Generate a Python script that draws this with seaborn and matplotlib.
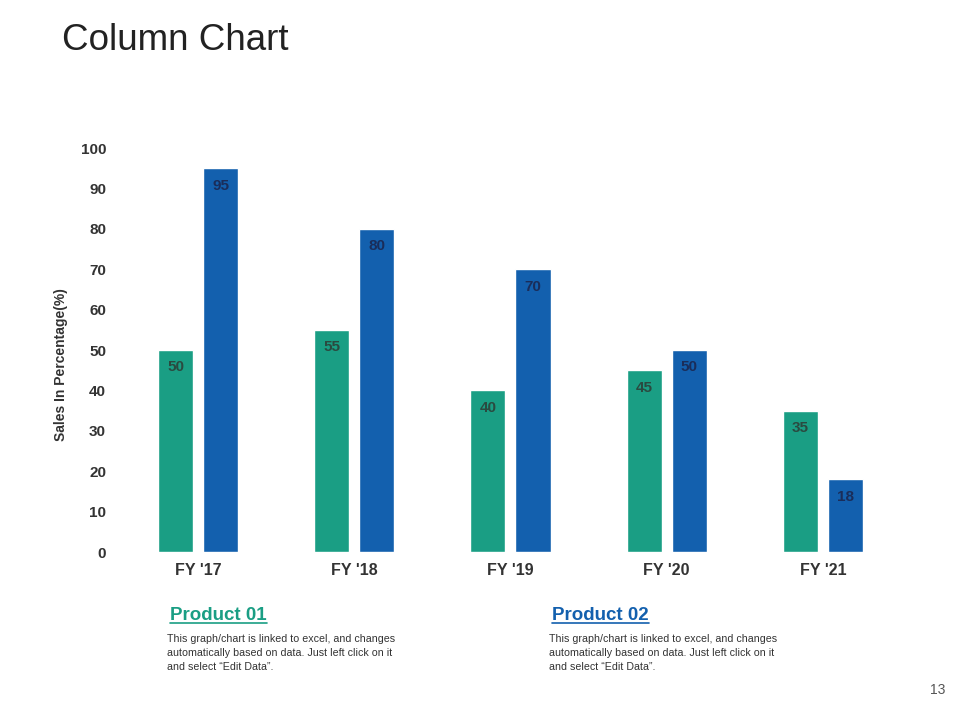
import matplotlib
matplotlib.use("Agg")
import matplotlib.pyplot as plt
from matplotlib.lines import Line2D
import pandas as pd
import seaborn as sns

# chart data
YEARS = ["FY '17", "FY '18", "FY '19", "FY '20", "FY '21"]
PRODUCT_01 = [50, 55, 40, 45, 35]
PRODUCT_02 = [95, 80, 70, 50, 18]
SERIES = ["Product 01", "Product 02"]
Y_TICKS = [0, 10, 20, 30, 40, 50, 60, 70, 80, 90, 100]

GREEN = "#1a9e84"
BLUE = "#1360ae"
LABEL_COLORS = ["#2a4a40", "#1a2d5a"]
NOTE = ("This graph/chart is linked to excel, and changes\n"
        "automatically based on data. Just left click on it\n"
        "and select \u201cEdit Data\u201d.")

df = pd.DataFrame({
    "year": YEARS * 2,
    "sales": PRODUCT_01 + PRODUCT_02,
    "product": [SERIES[0]] * len(YEARS) + [SERIES[1]] * len(YEARS),
})

sns.set_style("white")
plt.rcParams["font.family"] = ["Liberation Sans", "DejaVu Sans"]

fig = plt.figure(figsize=(9.6, 7.2), dpi=100)
ax = fig.add_axes([0.125, 0.2333, 0.8135, 0.5611])

sns.barplot(data=df, x="year", y="sales", hue="product", palette=[GREEN, BLUE],
            width=0.577, gap=0.222, saturation=1, legend=False, ax=ax)

for container, color in zip(ax.containers, LABEL_COLORS):
    for bar in container:
        h = bar.get_height()
        ax.annotate(f"{h:g}", (bar.get_x() + bar.get_width() / 2, h),
                    xytext=(0, -12.5), textcoords="offset points",
                    ha="center", va="center", fontsize=11, fontweight="bold",
                    color=color)

ax.set_ylim(0, 100)
ax.set_xlim(-0.5, 4.5)
ax.set_yticks(Y_TICKS)
ax.tick_params(axis="both", length=0, labelcolor="#333333")
ax.tick_params(axis="y", pad=10, labelsize=11)
ax.tick_params(axis="x", pad=8, labelsize=11.5)
for lab in ax.get_xticklabels() + ax.get_yticklabels():
    lab.set_fontweight("bold")
ax.set_xlabel("")
ax.set_ylabel("Sales In Percentage(%)", fontsize=10, fontweight="bold", color="#333333")
ax.yaxis.set_label_coords(-0.0666, 0.463)
sns.despine(ax=ax, left=True, bottom=True)

fig.text(62 / 960, 1 - 41 / 720, "Column Chart", fontsize=26.5, color="#222222",
         ha="left", va="center")
fig.text(945 / 960, 1 - 690 / 720, "13", fontsize=10, color="#555555",
         ha="right", va="center")

headings = []
for x_px, name, color in [(170, SERIES[0], GREEN), (552, SERIES[1], BLUE)]:
    t = fig.text(x_px / 960, 1 - 615 / 720, name, fontsize=13.5, fontweight="bold",
                 color=color, ha="left", va="center")
    headings.append((t, color))
    fig.text((x_px - 3) / 960, 1 - 634 / 720, NOTE, fontsize=7.7, color="#333333",
             ha="left", va="top", linespacing=1.5)

# underline the product headings
fig.canvas.draw()
renderer = fig.canvas.get_renderer()
for t, color in headings:
    bb = t.get_window_extent(renderer)
    y = bb.y0 + 1
    fig.add_artist(Line2D([bb.x0, bb.x1], [y, y], transform=None,
                          color=color, linewidth=1.2))

fig.savefig("out.png", dpi=100, facecolor="white")
